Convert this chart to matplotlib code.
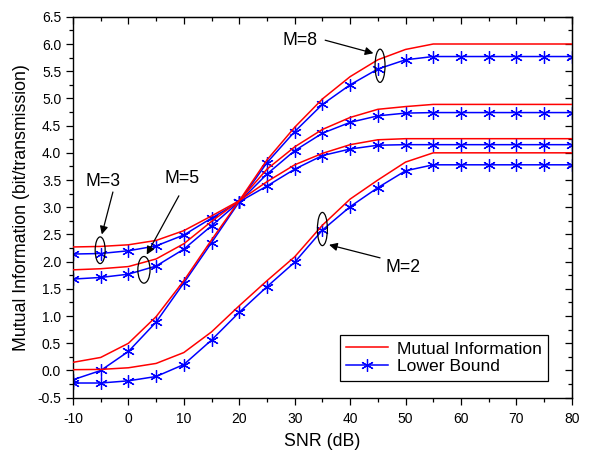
import matplotlib
matplotlib.use("Agg")
import matplotlib.pyplot as plt
from matplotlib.patches import Ellipse
from matplotlib.lines import Line2D

plt.rcParams['font.family'] = ['Liberation Sans', 'DejaVu Sans']
plt.rcParams['axes.unicode_minus'] = False

snr = [-10, -5, 0, 5, 10, 15, 20, 25, 30, 35, 40, 45, 50, 55, 60, 65, 70, 75, 80]

mi_m2 = [0.015, 0.02, 0.05, 0.13, 0.33, 0.71, 1.19, 1.65, 2.09, 2.67, 3.15, 3.50, 3.83, 4.0, 4.0, 4.0, 4.0, 4.0, 4.0]
lb_m2 = [-0.23, -0.23, -0.19, -0.11, 0.11, 0.56, 1.07, 1.54, 1.99, 2.58, 3.01, 3.36, 3.67, 3.78, 3.78, 3.78, 3.78, 3.78, 3.78]

mi_m3 = [2.27, 2.28, 2.31, 2.39, 2.57, 2.84, 3.12, 3.47, 3.78, 3.99, 4.15, 4.24, 4.26, 4.26, 4.26, 4.26, 4.26, 4.26, 4.26]
lb_m3 = [2.14, 2.15, 2.20, 2.29, 2.49, 2.80, 3.10, 3.39, 3.70, 3.95, 4.07, 4.14, 4.15, 4.15, 4.15, 4.15, 4.15, 4.15, 4.15]

mi_m5 = [1.85, 1.87, 1.91, 2.05, 2.33, 2.74, 3.12, 3.70, 4.11, 4.43, 4.65, 4.80, 4.85, 4.89, 4.89, 4.89, 4.89, 4.89, 4.89]
lb_m5 = [1.68, 1.71, 1.77, 1.92, 2.23, 2.66, 3.10, 3.61, 4.04, 4.36, 4.56, 4.68, 4.73, 4.74, 4.74, 4.74, 4.74, 4.74, 4.74]

mi_m8 = [0.15, 0.24, 0.50, 0.99, 1.65, 2.40, 3.12, 3.87, 4.47, 4.99, 5.40, 5.71, 5.90, 6.0, 6.0, 6.0, 6.0, 6.0, 6.0]
lb_m8 = [-0.17, 0.0, 0.35, 0.89, 1.61, 2.35, 3.10, 3.82, 4.39, 4.89, 5.25, 5.54, 5.71, 5.77, 5.77, 5.77, 5.77, 5.77, 5.77]

mi_series = [mi_m2, mi_m3, mi_m5, mi_m8]
lb_series = [lb_m2, lb_m3, lb_m5, lb_m8]

fig = plt.figure(figsize=(5.95, 4.54), dpi=100)
ax = fig.add_axes([0.1227, 0.124, 0.8383, 0.839])

star = (6, 2, 0)
for mi, lb in zip(mi_series, lb_series):
    ax.plot(snr, mi, color='red', lw=1.1, zorder=3)
    ax.plot(snr, lb, color='blue', lw=1.1, marker=star, ms=9, mew=0.9,
            mec='blue', mfc='blue', zorder=2)

xmaj = list(range(-10, 81, 10))
xmin = list(range(-10, 81, 5))
ymaj = [i * 0.5 for i in range(-1, 14)]
ymin = [i * 0.25 for i in range(-2, 27)]

ax.set_xlim(-10, 80)
ax.set_ylim(-0.5, 6.5)
ax.set_xticks(xmaj)
ax.set_xticks(xmin, minor=True)
ax.set_yticks(ymaj)
ax.set_yticks(ymin, minor=True)
ax.set_yticklabels([f"{v:.1f}" for v in ymaj])
ax.tick_params(which='both', direction='out', labelsize=10, width=0.9)
ax.tick_params(which='major', length=5)
ax.tick_params(which='minor', length=3)
ax.tick_params(axis='x', which='major', pad=5)

top = ax.secondary_xaxis('top')
top.set_xticks(xmaj)
top.set_xticks(xmin, minor=True)
top.tick_params(which='both', direction='in', labeltop=False, width=0.9)
top.tick_params(which='major', length=5)
top.tick_params(which='minor', length=3)
right = ax.secondary_yaxis('right')
right.set_yticks(ymaj)
right.set_yticks(ymin, minor=True)
right.tick_params(which='both', direction='in', labelright=False, width=0.9)
right.tick_params(which='major', length=5)
right.tick_params(which='minor', length=3)

for s in ax.spines.values():
    s.set_linewidth(1.0)

ax.set_xlabel('SNR (dB)', fontsize=12.8, labelpad=5)
ax.set_ylabel('Mutual Information (bit/transmission)', fontsize=12.8, labelpad=5)

# Ellipses
for (cx, cy, w, h) in [(45.4, 5.6, 1.8, 0.61), (-5.1, 2.21, 1.8, 0.49),
                       (2.8, 1.85, 2.2, 0.49), (35.0, 2.6, 1.8, 0.61)]:
    ax.add_patch(Ellipse((cx, cy), w, h, fill=False, ec='black', lw=0.9, zorder=4))

arrow = dict(arrowstyle='-|>', color='black', lw=0.9, mutation_scale=12,
             shrinkA=0, shrinkB=0)
fs = 12.7
ax.text(31.0, 6.07, 'M=8', fontsize=fs, ha='center', va='center')
ax.annotate('', xy=(44.2, 5.83), xytext=(35.5, 6.07), arrowprops=arrow)
ax.text(-4.6, 3.48, 'M=3', fontsize=fs, ha='center', va='center')
ax.annotate('', xy=(-4.8, 2.5), xytext=(-2.8, 3.28), arrowprops=arrow)
ax.text(9.7, 3.52, 'M=5', fontsize=fs, ha='center', va='center')
ax.annotate('', xy=(3.3, 2.13), xytext=(9.1, 3.21), arrowprops=arrow)
ax.text(49.6, 1.9, 'M=2', fontsize=fs, ha='center', va='center')
ax.annotate('', xy=(36.2, 2.31), xytext=(45.4, 2.07), arrowprops=arrow)

handles = [Line2D([], [], color='red', lw=1.1),
           Line2D([], [], color='blue', lw=1.1, marker=star, ms=9, mew=0.9)]
leg = ax.legend(handles, ['Mutual Information', 'Lower Bound'], loc='lower right',
                bbox_to_anchor=(0.952, 0.045), borderaxespad=0, fontsize=12.6,
                frameon=True, fancybox=False, edgecolor='black', framealpha=1,
                handlelength=2.4, handletextpad=0.5, borderpad=0.35,
                labelspacing=0.15)
leg.get_frame().set_linewidth(0.9)

fig.savefig('out.png', dpi=100)
